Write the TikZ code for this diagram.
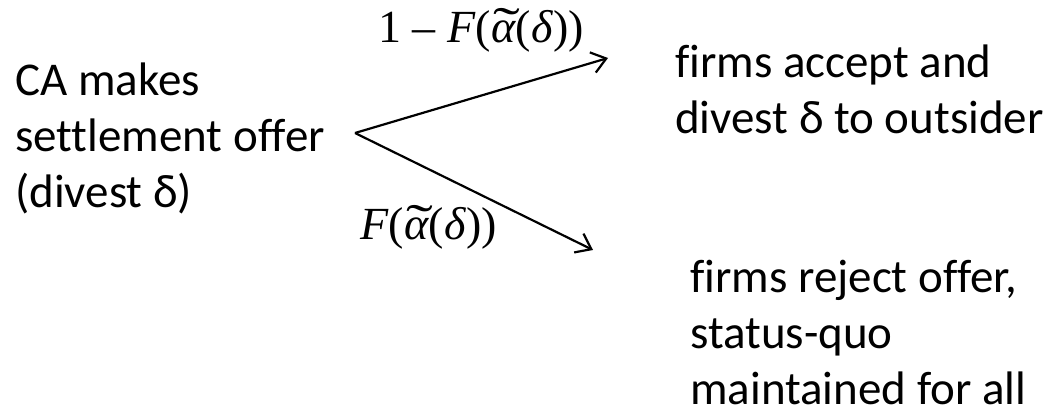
\documentclass[tikz,border=0pt]{standalone}
\usepackage{fontspec}
\usepackage{graphicx}
\setmainfont[Ligatures={NoCommon}]{Carlito}
\newfontfamily\tms{Liberation Serif}
\usetikzlibrary{arrows.meta}
\newcommand{\tildealpha}{\makebox[0pt][l]{\hspace{0.06em}\raisebox{0.02em}{\scalebox{1.75}[1.1]{\char"02DC}}}\textit{α}}
\tikzset{
  txt/.style={inner sep=0pt, anchor=base west, font=\fontsize{47}{56}\selectfont},
  lbl/.style={inner sep=0pt, anchor=base west, font=\tms\fontsize{46}{52}\selectfont},
  arr/.style={line width=2.2pt, -{Straight Barb[length=14pt,width=21pt,line width=2.2pt]}}
}
\begin{document}
\begin{tikzpicture}[x=1pt,y=1pt]
\useasboundingbox (0,0) rectangle (1054,409);
\node[txt] (ca) at (15,313) {\begin{tabular}[t]{@{}l@{}}CA makes\\settlement offer\\(divest δ)\end{tabular}};
\node[txt] (acc) at (675,331) {\begin{tabular}[t]{@{}l@{}}firms accept and\\divest δ to outsider\end{tabular}};
\node[txt] (rej) at (690,116) {\begin{tabular}[t]{@{}l@{}}firms reject offer,\\status-quo\\maintained for all\end{tabular}};
\coordinate (o) at (355,276);
\coordinate (t1) at (608,351);
\coordinate (t2) at (593,159);
\draw[arr] (o) -- (t1);
\draw[arr] (o) -- (t2);
\node[lbl] (l1) at (378,366) {1\hspace{0.25em}–\hspace{0.25em}\textit{F}(\tildealpha(\textit{δ}))};
\node[lbl] (l2) at (360,169) {\textit{F}(\tildealpha(\textit{δ}))};
\end{tikzpicture}
\end{document}
